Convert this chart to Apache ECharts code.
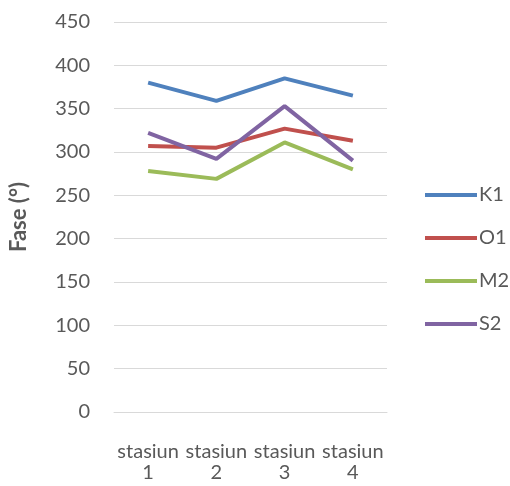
<!DOCTYPE html>
<html>
<head>
<meta charset="utf-8">
<script src="https://cdn.jsdelivr.net/npm/echarts@6/dist/echarts.min.js"></script>
<style>
  html, body { margin: 0; padding: 0; background: #fff; }
  #chart { width: 510px; height: 486px; }
</style>
</head>
<body>
<div id="chart"></div>
<script>
// data
const categories = ['stasiun\n1', 'stasiun\n2', 'stasiun\n3', 'stasiun\n4']
const k1 = [380, 359, 385, 365]
const o1 = [307, 305, 327, 313]
const m2 = [278, 269, 311, 280]
const s2 = [322, 292, 353, 290]
const seriesNames = ['K1', 'O1', 'M2', 'S2']
const seriesColors = ['#4f81bd', '#c0504d', '#9bbb59', '#8064a2']
const yTicks = { min: 0, max: 450, interval: 50 }

const fontFamily = 'Lato, "Open Sans", sans-serif'
const chart = echarts.init(document.getElementById('chart'))

const seriesArr = [k1, o1, m2, s2].map((vals, i) => {
  return {
    name: seriesNames[i],
    type: 'line',
    data: vals,
    showSymbol: false,
    symbol: 'none',
    lineStyle: { width: 4, color: seriesColors[i] },
    itemStyle: { color: seriesColors[i] }
  }
})

chart.setOption({
  animation: false,
  textStyle: { fontFamily: fontFamily },
  grid: {
    left: 113,
    right: 123,
    top: 22,
    bottom: 74
  },
  legend: {
    orient: 'vertical',
    left: 420,
    top: 180,
    icon: 'rect',
    itemWidth: 52,
    itemHeight: 4,
    itemGap: 23,
    textStyle: { fontSize: 20, lineHeight: 20, color: '#595959', padding: [0, 0, 0, -3], fontFamily: fontFamily },
    data: seriesNames
  },
  xAxis: {
    type: 'category',
    data: categories,
    boundaryGap: true,
    axisLine: { show: true, lineStyle: { color: '#d9d9d9' } },
    axisTick: { show: false },
    axisLabel: {
      color: '#595959',
      fontSize: 20,
      lineHeight: 21,
      margin: 29,
      interval: 0
    }
  },
  yAxis: {
    type: 'value',
    min: yTicks.min,
    max: yTicks.max,
    interval: yTicks.interval,
    name: 'Fase (°)',
    nameLocation: 'middle',
    nameGap: 84,
    nameTextStyle: { fontSize: 22, fontWeight: 'bold', color: '#595959' },
    axisLine: { show: false },
    axisTick: { show: false },
    axisLabel: { color: '#595959', fontSize: 20, margin: 24 },
    splitLine: { lineStyle: { color: '#d9d9d9', width: 1 } }
  },
  series: seriesArr
})
</script>
</body>
</html>
